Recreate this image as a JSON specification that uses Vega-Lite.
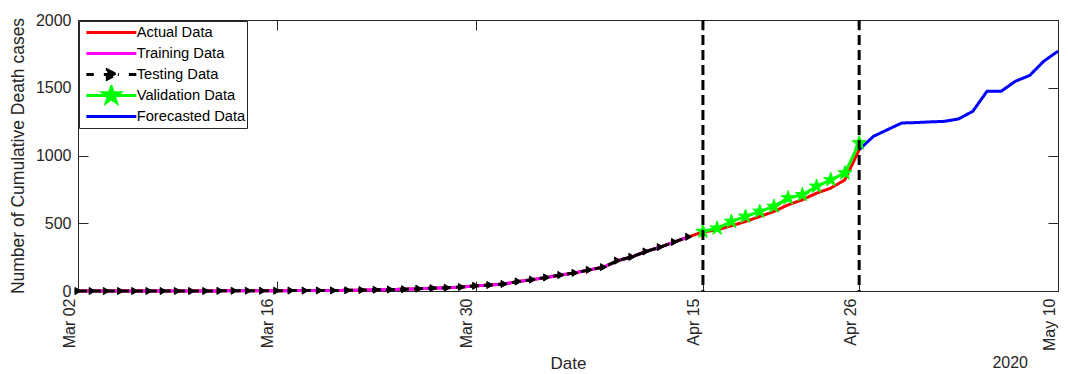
{
  "$schema": "https://vega.github.io/schema/vega-lite/v6.json",
  "width": 980,
  "height": 271,
  "autosize": {"type": "none"},
  "padding": {"left": 78, "top": 20, "right": 10, "bottom": 83},
  "config": {
    "font": "Liberation Sans",
    "view": {"stroke": null},
    "axis": {"domainColor": "#262626", "tickColor": "#262626", "labelColor": "#262626", "titleColor": "#262626", "grid": false, "titleFontWeight": "normal", "domainWidth": 1, "tickWidth": 1, "labelFont": "Liberation Sans", "titleFont": "Liberation Sans"}
  },
  "title": {"text": "2020", "orient": "bottom", "anchor": "end", "frame": "group", "offset": -16, "dx": -30, "fontSize": 16, "fontWeight": "normal", "color": "#262626", "font": "Liberation Sans"},
  "datasets": {
    "series": [
      {"date": "2020-03-02", "value": 0, "series": "Actual Data"},
      {"date": "2020-03-03", "value": 0, "series": "Actual Data"},
      {"date": "2020-03-04", "value": 0, "series": "Actual Data"},
      {"date": "2020-03-05", "value": 0, "series": "Actual Data"},
      {"date": "2020-03-06", "value": 0, "series": "Actual Data"},
      {"date": "2020-03-07", "value": 0, "series": "Actual Data"},
      {"date": "2020-03-08", "value": 0, "series": "Actual Data"},
      {"date": "2020-03-09", "value": 0, "series": "Actual Data"},
      {"date": "2020-03-10", "value": 0, "series": "Actual Data"},
      {"date": "2020-03-11", "value": 0, "series": "Actual Data"},
      {"date": "2020-03-12", "value": 1, "series": "Actual Data"},
      {"date": "2020-03-13", "value": 2, "series": "Actual Data"},
      {"date": "2020-03-14", "value": 2, "series": "Actual Data"},
      {"date": "2020-03-15", "value": 2, "series": "Actual Data"},
      {"date": "2020-03-16", "value": 2, "series": "Actual Data"},
      {"date": "2020-03-17", "value": 3, "series": "Actual Data"},
      {"date": "2020-03-18", "value": 3, "series": "Actual Data"},
      {"date": "2020-03-19", "value": 4, "series": "Actual Data"},
      {"date": "2020-03-20", "value": 4, "series": "Actual Data"},
      {"date": "2020-03-21", "value": 5, "series": "Actual Data"},
      {"date": "2020-03-22", "value": 7, "series": "Actual Data"},
      {"date": "2020-03-23", "value": 9, "series": "Actual Data"},
      {"date": "2020-03-24", "value": 11, "series": "Actual Data"},
      {"date": "2020-03-25", "value": 13, "series": "Actual Data"},
      {"date": "2020-03-26", "value": 17, "series": "Actual Data"},
      {"date": "2020-03-27", "value": 21, "series": "Actual Data"},
      {"date": "2020-03-28", "value": 24, "series": "Actual Data"},
      {"date": "2020-03-29", "value": 29, "series": "Actual Data"},
      {"date": "2020-03-30", "value": 38, "series": "Actual Data"},
      {"date": "2020-03-31", "value": 44, "series": "Actual Data"},
      {"date": "2020-04-01", "value": 52, "series": "Actual Data"},
      {"date": "2020-04-02", "value": 70, "series": "Actual Data"},
      {"date": "2020-04-03", "value": 84, "series": "Actual Data"},
      {"date": "2020-04-04", "value": 100, "series": "Actual Data"},
      {"date": "2020-04-05", "value": 118, "series": "Actual Data"},
      {"date": "2020-04-06", "value": 134, "series": "Actual Data"},
      {"date": "2020-04-07", "value": 156, "series": "Actual Data"},
      {"date": "2020-04-08", "value": 176, "series": "Actual Data"},
      {"date": "2020-04-09", "value": 224, "series": "Actual Data"},
      {"date": "2020-04-10", "value": 252, "series": "Actual Data"},
      {"date": "2020-04-11", "value": 292, "series": "Actual Data"},
      {"date": "2020-04-12", "value": 324, "series": "Actual Data"},
      {"date": "2020-04-13", "value": 362, "series": "Actual Data"},
      {"date": "2020-04-14", "value": 400, "series": "Actual Data"},
      {"date": "2020-04-15", "value": 436, "series": "Actual Data"},
      {"date": "2020-04-16", "value": 451, "series": "Actual Data"},
      {"date": "2020-04-17", "value": 481, "series": "Actual Data"},
      {"date": "2020-04-18", "value": 513, "series": "Actual Data"},
      {"date": "2020-04-19", "value": 550, "series": "Actual Data"},
      {"date": "2020-04-20", "value": 587, "series": "Actual Data"},
      {"date": "2020-04-21", "value": 636, "series": "Actual Data"},
      {"date": "2020-04-22", "value": 673, "series": "Actual Data"},
      {"date": "2020-04-23", "value": 722, "series": "Actual Data"},
      {"date": "2020-04-24", "value": 759, "series": "Actual Data"},
      {"date": "2020-04-25", "value": 821, "series": "Actual Data"},
      {"date": "2020-04-26", "value": 1043, "series": "Actual Data"},
      {"date": "2020-03-02", "value": 0, "series": "Training Data"},
      {"date": "2020-03-03", "value": 0, "series": "Training Data"},
      {"date": "2020-03-04", "value": 0, "series": "Training Data"},
      {"date": "2020-03-05", "value": 0, "series": "Training Data"},
      {"date": "2020-03-06", "value": 0, "series": "Training Data"},
      {"date": "2020-03-07", "value": 0, "series": "Training Data"},
      {"date": "2020-03-08", "value": 0, "series": "Training Data"},
      {"date": "2020-03-09", "value": 0, "series": "Training Data"},
      {"date": "2020-03-10", "value": 0, "series": "Training Data"},
      {"date": "2020-03-11", "value": 0, "series": "Training Data"},
      {"date": "2020-03-12", "value": 1, "series": "Training Data"},
      {"date": "2020-03-13", "value": 2, "series": "Training Data"},
      {"date": "2020-03-14", "value": 2, "series": "Training Data"},
      {"date": "2020-03-15", "value": 2, "series": "Training Data"},
      {"date": "2020-03-16", "value": 2, "series": "Training Data"},
      {"date": "2020-03-17", "value": 3, "series": "Training Data"},
      {"date": "2020-03-18", "value": 3, "series": "Training Data"},
      {"date": "2020-03-19", "value": 4, "series": "Training Data"},
      {"date": "2020-03-20", "value": 4, "series": "Training Data"},
      {"date": "2020-03-21", "value": 5, "series": "Training Data"},
      {"date": "2020-03-22", "value": 7, "series": "Training Data"},
      {"date": "2020-03-23", "value": 9, "series": "Training Data"},
      {"date": "2020-03-24", "value": 11, "series": "Training Data"},
      {"date": "2020-03-25", "value": 13, "series": "Training Data"},
      {"date": "2020-03-26", "value": 17, "series": "Training Data"},
      {"date": "2020-03-27", "value": 21, "series": "Training Data"},
      {"date": "2020-03-28", "value": 24, "series": "Training Data"},
      {"date": "2020-03-29", "value": 29, "series": "Training Data"},
      {"date": "2020-03-30", "value": 38, "series": "Training Data"},
      {"date": "2020-03-31", "value": 44, "series": "Training Data"},
      {"date": "2020-04-01", "value": 52, "series": "Training Data"},
      {"date": "2020-04-02", "value": 70, "series": "Training Data"},
      {"date": "2020-04-03", "value": 84, "series": "Training Data"},
      {"date": "2020-04-04", "value": 100, "series": "Training Data"},
      {"date": "2020-04-05", "value": 118, "series": "Training Data"},
      {"date": "2020-04-06", "value": 134, "series": "Training Data"},
      {"date": "2020-04-07", "value": 156, "series": "Training Data"},
      {"date": "2020-04-08", "value": 176, "series": "Training Data"},
      {"date": "2020-04-09", "value": 224, "series": "Training Data"},
      {"date": "2020-04-10", "value": 252, "series": "Training Data"},
      {"date": "2020-04-11", "value": 292, "series": "Training Data"},
      {"date": "2020-04-12", "value": 324, "series": "Training Data"},
      {"date": "2020-04-13", "value": 362, "series": "Training Data"},
      {"date": "2020-04-14", "value": 400, "series": "Training Data"},
      {"date": "2020-03-02", "value": 0, "series": "Testing Data"},
      {"date": "2020-03-03", "value": 0, "series": "Testing Data"},
      {"date": "2020-03-04", "value": 0, "series": "Testing Data"},
      {"date": "2020-03-05", "value": 0, "series": "Testing Data"},
      {"date": "2020-03-06", "value": 0, "series": "Testing Data"},
      {"date": "2020-03-07", "value": 0, "series": "Testing Data"},
      {"date": "2020-03-08", "value": 0, "series": "Testing Data"},
      {"date": "2020-03-09", "value": 0, "series": "Testing Data"},
      {"date": "2020-03-10", "value": 0, "series": "Testing Data"},
      {"date": "2020-03-11", "value": 0, "series": "Testing Data"},
      {"date": "2020-03-12", "value": 1, "series": "Testing Data"},
      {"date": "2020-03-13", "value": 2, "series": "Testing Data"},
      {"date": "2020-03-14", "value": 2, "series": "Testing Data"},
      {"date": "2020-03-15", "value": 2, "series": "Testing Data"},
      {"date": "2020-03-16", "value": 2, "series": "Testing Data"},
      {"date": "2020-03-17", "value": 3, "series": "Testing Data"},
      {"date": "2020-03-18", "value": 3, "series": "Testing Data"},
      {"date": "2020-03-19", "value": 4, "series": "Testing Data"},
      {"date": "2020-03-20", "value": 4, "series": "Testing Data"},
      {"date": "2020-03-21", "value": 5, "series": "Testing Data"},
      {"date": "2020-03-22", "value": 7, "series": "Testing Data"},
      {"date": "2020-03-23", "value": 9, "series": "Testing Data"},
      {"date": "2020-03-24", "value": 11, "series": "Testing Data"},
      {"date": "2020-03-25", "value": 13, "series": "Testing Data"},
      {"date": "2020-03-26", "value": 17, "series": "Testing Data"},
      {"date": "2020-03-27", "value": 21, "series": "Testing Data"},
      {"date": "2020-03-28", "value": 24, "series": "Testing Data"},
      {"date": "2020-03-29", "value": 29, "series": "Testing Data"},
      {"date": "2020-03-30", "value": 38, "series": "Testing Data"},
      {"date": "2020-03-31", "value": 44, "series": "Testing Data"},
      {"date": "2020-04-01", "value": 52, "series": "Testing Data"},
      {"date": "2020-04-02", "value": 70, "series": "Testing Data"},
      {"date": "2020-04-03", "value": 84, "series": "Testing Data"},
      {"date": "2020-04-04", "value": 100, "series": "Testing Data"},
      {"date": "2020-04-05", "value": 118, "series": "Testing Data"},
      {"date": "2020-04-06", "value": 134, "series": "Testing Data"},
      {"date": "2020-04-07", "value": 156, "series": "Testing Data"},
      {"date": "2020-04-08", "value": 176, "series": "Testing Data"},
      {"date": "2020-04-09", "value": 224, "series": "Testing Data"},
      {"date": "2020-04-10", "value": 252, "series": "Testing Data"},
      {"date": "2020-04-11", "value": 292, "series": "Testing Data"},
      {"date": "2020-04-12", "value": 324, "series": "Testing Data"},
      {"date": "2020-04-13", "value": 362, "series": "Testing Data"},
      {"date": "2020-04-14", "value": 400, "series": "Testing Data"},
      {"date": "2020-04-15", "value": 439, "series": "Validation Data"},
      {"date": "2020-04-16", "value": 463, "series": "Validation Data"},
      {"date": "2020-04-17", "value": 513, "series": "Validation Data"},
      {"date": "2020-04-18", "value": 550, "series": "Validation Data"},
      {"date": "2020-04-19", "value": 587, "series": "Validation Data"},
      {"date": "2020-04-20", "value": 624, "series": "Validation Data"},
      {"date": "2020-04-21", "value": 686, "series": "Validation Data"},
      {"date": "2020-04-22", "value": 710, "series": "Validation Data"},
      {"date": "2020-04-23", "value": 772, "series": "Validation Data"},
      {"date": "2020-04-24", "value": 821, "series": "Validation Data"},
      {"date": "2020-04-25", "value": 870, "series": "Validation Data"},
      {"date": "2020-04-26", "value": 1092, "series": "Validation Data"},
      {"date": "2020-04-26", "value": 1043, "series": "Forecasted Data"},
      {"date": "2020-04-27", "value": 1141, "series": "Forecasted Data"},
      {"date": "2020-04-28", "value": 1191, "series": "Forecasted Data"},
      {"date": "2020-04-29", "value": 1240, "series": "Forecasted Data"},
      {"date": "2020-04-30", "value": 1243, "series": "Forecasted Data"},
      {"date": "2020-05-01", "value": 1248, "series": "Forecasted Data"},
      {"date": "2020-05-02", "value": 1252, "series": "Forecasted Data"},
      {"date": "2020-05-03", "value": 1270, "series": "Forecasted Data"},
      {"date": "2020-05-04", "value": 1326, "series": "Forecasted Data"},
      {"date": "2020-05-05", "value": 1474, "series": "Forecasted Data"},
      {"date": "2020-05-06", "value": 1474, "series": "Forecasted Data"},
      {"date": "2020-05-07", "value": 1548, "series": "Forecasted Data"},
      {"date": "2020-05-08", "value": 1590, "series": "Forecasted Data"},
      {"date": "2020-05-09", "value": 1696, "series": "Forecasted Data"},
      {"date": "2020-05-10", "value": 1770, "series": "Forecasted Data"}
    ],
    "splits": [
      {"date": "2020-04-15"},
      {"date": "2020-04-26"}
    ]
  },
  "resolve": {"axis": {"x": "independent", "y": "independent"}},
  "layer": [
    {
      "data": {"name": "series"},
      "mark": {"type": "line", "strokeWidth": 3},
      "encoding": {
        "x": {
          "field": "date", "type": "temporal",
          "scale": {"type": "utc", "domain": [{"year": 2020, "month": 3, "date": 2, "utc": true}, {"year": 2020, "month": 5, "date": 10, "utc": true}]},
          "axis": {
            "orient": "bottom", "title": "Date",
            "values": [{"year": 2020, "month": 3, "date": 2, "utc": true}, {"year": 2020, "month": 3, "date": 16, "utc": true}, {"year": 2020, "month": 3, "date": 30, "utc": true}, {"year": 2020, "month": 4, "date": 15, "utc": true}, {"year": 2020, "month": 4, "date": 26, "utc": true}, {"year": 2020, "month": 5, "date": 10, "utc": true}],
            "format": "%b %d", "labelAngle": 270, "tickSize": -10, "labelPadding": 17, "labelOffset": -9,
            "labelFontSize": 16, "titleFontSize": 17, "titlePadding": 5,
            "labelFlush": false, "labelOverlap": false
          }
        },
        "y": {
          "field": "value", "type": "quantitative",
          "scale": {"domain": [0, 2000], "nice": false, "zero": true},
          "axis": {
            "orient": "left", "title": "Number of Cumulative Death cases",
            "values": [0, 500, 1000, 1500, 2000], "format": "d", "tickSize": -10, "labelPadding": 17,
            "labelFontSize": 16, "titleFontSize": 17.5, "titlePadding": 8,
            "labelFlush": false, "labelOverlap": false
          }
        },
        "color": {
          "field": "series", "type": "nominal",
          "scale": {"domain": ["Actual Data", "Training Data", "Testing Data", "Validation Data", "Forecasted Data"], "range": ["#ff0000", "#ff00ff", "#000000", "#00ff00", "#0000ff"]},
          "legend": {
            "title": null, "orient": "top-left", "offset": 1, "padding": 1,
            "strokeColor": "#262626", "fillColor": "#ffffff", "cornerRadius": 0,
            "symbolSize": 100, "symbolStrokeWidth": 3, "rowPadding": 0, "clipHeight": 21,
            "symbolOffset": 24, "labelOffset": 18,
            "labelFont": "Liberation Sans", "labelFontSize": 14.7, "labelColor": "#000000",
            "encode": {
              "symbols": {
                "update": {
                  "shape": {"signal": "datum.value === 'Testing Data' ? 'M-5,0H-3.5M-1.5,0H1.5M3.5,0H5M-0.8,-0.9L1,0L-0.8,0.9Z' : datum.value === 'Validation Data' ? 'M-5,0H5M0,-1.7L0.3817,-0.5254L1.6168,-0.5253L0.6176,0.2007L0.9992,1.3753L0,0.6494L-0.9992,1.3753L-0.6176,0.2007L-1.6168,-0.5253L-0.3817,-0.5254Z' : 'M-5,0H5'"},
                  "fill": {"signal": "datum.value === 'Validation Data' ? '#00ff00' : datum.value === 'Testing Data' ? '#000000' : 'transparent'"}
                }
              }
            }
          }
        },
        "strokeDash": {
          "field": "series", "type": "nominal",
          "scale": {"domain": ["Actual Data", "Training Data", "Testing Data", "Validation Data", "Forecasted Data"], "range": [[1, 0], [1, 0], [9, 5], [1, 0], [1, 0]]},
          "legend": null
        }
      }
    },
    {
      "data": {"name": "series"},
      "transform": [{"filter": "datum.series === 'Testing Data'"}],
      "mark": {"type": "point", "shape": "triangle-right", "filled": true, "fill": "#000000", "stroke": "#000000", "strokeWidth": 1, "size": 50, "opacity": 1},
      "encoding": {
        "x": {"field": "date", "type": "temporal", "axis": null},
        "y": {"field": "value", "type": "quantitative", "axis": null}
      }
    },
    {
      "data": {"name": "series"},
      "transform": [{"filter": "datum.series === 'Validation Data'"}],
      "mark": {"type": "point", "shape": "M0,-1L0.2245,-0.309L0.951,-0.309L0.363,0.118L0.588,0.809L0,0.382L-0.588,0.809L-0.363,0.118L-0.951,-0.309L-0.2245,-0.309Z", "filled": true, "fill": "#00ff00", "stroke": "#00ff00", "strokeWidth": 1, "size": 225, "opacity": 1},
      "encoding": {
        "x": {
          "field": "date", "type": "temporal",
          "axis": {"orient": "top", "labels": false, "title": null, "tickSize": -10, "values": [{"year": 2020, "month": 3, "date": 2, "utc": true}, {"year": 2020, "month": 3, "date": 16, "utc": true}, {"year": 2020, "month": 3, "date": 30, "utc": true}, {"year": 2020, "month": 4, "date": 15, "utc": true}, {"year": 2020, "month": 4, "date": 26, "utc": true}, {"year": 2020, "month": 5, "date": 10, "utc": true}]}
        },
        "y": {
          "field": "value", "type": "quantitative",
          "axis": {"orient": "right", "labels": false, "title": null, "tickSize": -10, "values": [0, 500, 1000, 1500, 2000]}
        }
      }
    },
    {
      "data": {"name": "splits"},
      "mark": {"type": "rule", "strokeDash": [10, 5], "strokeWidth": 3, "color": "#000000"},
      "encoding": {
        "x": {"field": "date", "type": "temporal", "axis": null}
      }
    }
  ]
}
